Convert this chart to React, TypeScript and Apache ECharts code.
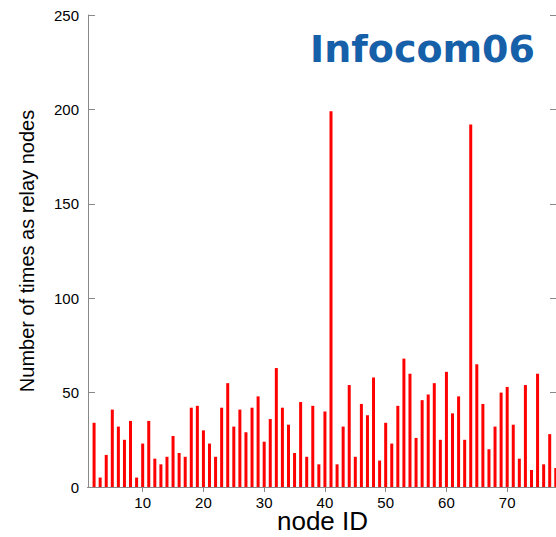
import React, { useEffect, useRef } from "react";
import * as echarts from "echarts";

const nodeIds = [
  2, 3, 4, 5, 6, 7, 8, 9, 10, 11, 12, 13, 14, 15, 16, 17, 18, 19, 20, 21,
  22, 23, 24, 25, 26, 27, 28, 29, 30, 31, 32, 33, 34, 35, 36, 37, 38, 39, 40, 41,
  42, 43, 44, 45, 46, 47, 48, 49, 50, 51, 52, 53, 54, 55, 56, 57, 58, 59, 60, 61,
  62, 63, 64, 65, 66, 67, 68, 69, 70, 71, 72, 73, 74, 75, 76, 77, 78,
];
const relayCounts = [
  34, 5, 17, 41, 32, 25, 35, 5, 23, 35, 15, 12, 16, 27, 18, 16, 42, 43, 30, 23,
  16, 42, 55, 32, 41, 29, 42, 48, 24, 36, 63, 42, 33, 18, 45, 16, 43, 12, 40, 199,
  12, 32, 54, 16, 44, 38, 58, 14, 34, 23, 43, 68, 60, 26, 46, 49, 55, 25, 61, 39,
  48, 25, 192, 65, 44, 20, 32, 50, 53, 33, 15, 54, 9, 60, 12, 28, 10,
];
const xTicks = [10, 20, 30, 40, 50, 60, 70];
const xMin = 1;
const xMax = 78.2;
const yTicks = [0, 50, 100, 150, 200, 250];
const title = "Infocom06";

export default function App() {
  const ref = useRef<HTMLDivElement>(null);
  useEffect(() => {
    if (!ref.current) return;
    const chart = echarts.init(ref.current, null, { renderer: "svg" });
    const font = "Liberation Sans, Arial, sans-serif";
    chart.setOption({
      animation: false,
      backgroundColor: "#ffffff",
      grid: {
        left: 88,
        top: 15,
        width: 469,
        height: 472,
        containLabel: false,
        outerBoundsMode: "none",
      },
      xAxis: [
        {
          type: "value",
          min: xMin,
          max: xMax,
          position: "bottom",
          name: "node ID",
          nameLocation: "middle",
          nameGap: 24,
          nameMoveOverlap: false,
          nameTextStyle: {
            fontFamily: font,
            fontSize: 26,
            lineHeight: 20,
            color: "#000",
            verticalAlign: "top",
          },
          axisLine: { show: true, lineStyle: { color: "#000", width: 1 } },
          axisTick: { show: false },
          splitLine: { show: false },
          axisLabel: {
            customValues: xTicks,
            fontFamily: font,
            fontSize: 15,
            color: "#000",
            margin: 8,
          },
        },
        {
          type: "value",
          min: xMin,
          max: xMax,
          position: "top",
          axisLine: { show: true, lineStyle: { color: "#888", width: 1 } },
          axisTick: {
            show: true,
            inside: true,
            length: 5,
            customValues: xTicks,
            lineStyle: { color: "#888" },
          },
          axisLabel: { show: false },
          splitLine: { show: false },
        },
      ],
      yAxis: [
        {
          type: "value",
          min: 0,
          max: 250,
          interval: 50,
          position: "left",
          name: "Number of times as relay nodes",
          nameLocation: "middle",
          nameGap: 51,
          nameMoveOverlap: false,
          nameTextStyle: { fontFamily: font, fontSize: 20, color: "#000" },
          axisLine: { show: true, lineStyle: { color: "#888", width: 1 } },
          axisTick: { show: true, inside: true, length: 7, lineStyle: { color: "#888" } },
          axisLabel: {
            fontFamily: font,
            fontSize: 15,
            color: "#000",
            margin: 9,
            customValues: yTicks,
          },
          splitLine: { show: false },
        },
        {
          type: "value",
          min: 0,
          max: 250,
          interval: 50,
          position: "right",
          axisLine: { show: true, lineStyle: { color: "#888", width: 1 } },
          axisTick: { show: true, inside: true, length: 7, lineStyle: { color: "#888" } },
          axisLabel: { show: false },
          splitLine: { show: false },
        },
      ],
      series: [
        {
          type: "bar",
          xAxisIndex: 0,
          yAxisIndex: 0,
          barWidth: 3,
          itemStyle: { color: "#ff0000" },
          data: nodeIds.map((id, i) => [id, relayCounts[i]]),
        },
      ],
      graphic: [
        {
          type: "text",
          right: 21,
          top: 30,
          style: {
            text: title,
            font: "bold 38px 'DejaVu Sans', sans-serif",
            fill: "#1560a8",
          },
        },
      ],
    });
    return () => chart.dispose();
  }, []);
  return (
    <div
      ref={ref}
      style={{ position: "fixed", left: 0, top: 0, width: 556, height: 537 }}
    />
  );
}
